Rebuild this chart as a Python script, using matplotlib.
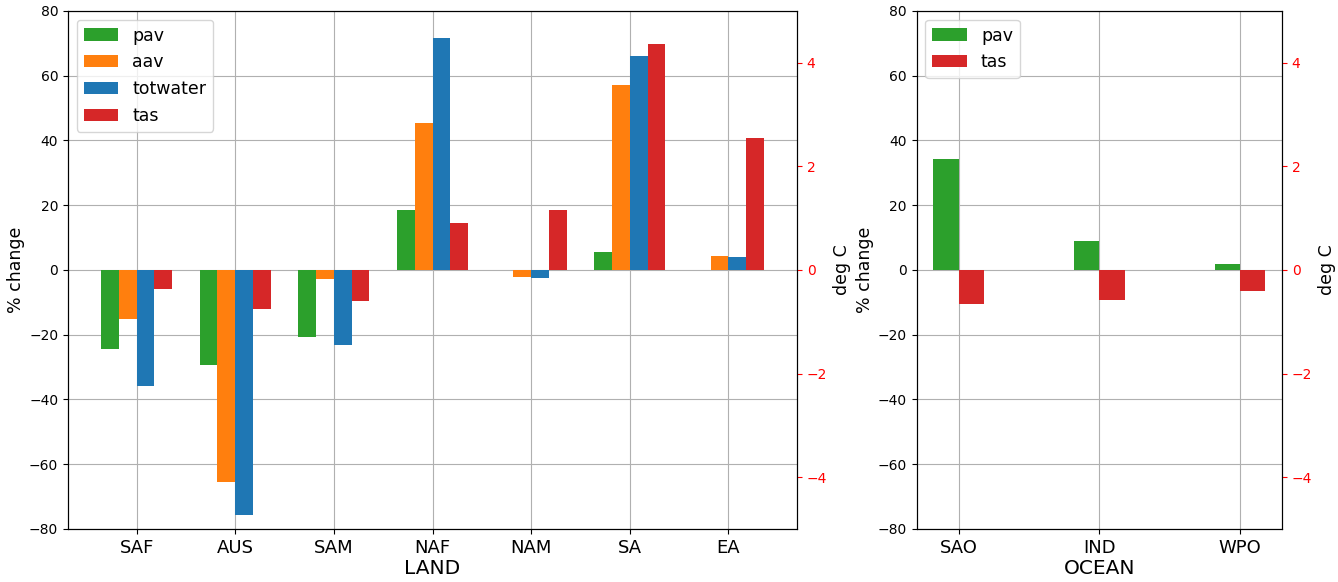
import numpy as np
import matplotlib.pyplot as plt

# land regions
land = ['SAF', 'AUS', 'SAM', 'NAF', 'NAM', 'SA', 'EA']
land_pav = [-24.3, -29.2, -20.8, 18.5, 0.1, 5.5, 0.1]
land_aav = [-15.1, -65.6, -2.9, 45.3, -2.1, 57.1, 4.3]
land_totwater = [-35.8, -75.7, -23.2, 71.8, -2.5, 66.0, 3.9]
land_tas = [-0.37, -0.75, -0.60, 0.90, 1.16, 4.37, 2.55]

# ocean regions
ocean = ['SAO', 'IND', 'WPO']
ocean_pav = [34.2, 9.0, 1.75]
ocean_tas = [-0.66, -0.585, -0.41]

w = 0.18

fig = plt.figure(figsize=(13.38, 5.82), dpi=100)
ax1 = fig.add_axes([0.0508, 0.0911, 0.5449, 0.8900])
ax2 = fig.add_axes([0.6851, 0.0911, 0.2731, 0.8900])

# -------------------------
# LAND
# -------------------------
x = np.arange(len(land))
b1 = ax1.bar(x - 1.5 * w, land_pav, w, color='tab:green', label='pav')
b2 = ax1.bar(x - 0.5 * w, land_aav, w, color='tab:orange', label='aav')
b3 = ax1.bar(x + 0.5 * w, land_totwater, w, color='tab:blue', label='totwater')
ax1.set_ylim(-80, 80)
ax1.set_xticks(x)
ax1.set_xticklabels(land, fontsize=13)
ax1.set_xlabel('LAND', fontsize=14.5, labelpad=2)
ax1.set_ylabel('% change', fontsize=12.5, labelpad=3)
ax1.grid(True)
ax1.set_axisbelow(True)

t1 = ax1.twinx()
b4 = t1.bar(x + 1.5 * w, land_tas, w, color='tab:red', label='tas')
t1.set_ylim(-5, 5)
t1.set_yticks([-4, -2, 0, 2, 4])
t1.tick_params(axis='y', colors='r')
t1.set_ylabel('deg C', fontsize=12.5)
t1.legend([b1, b2, b3, b4], ['pav', 'aav', 'totwater', 'tas'],
          loc='upper left', fontsize=12.5)

# -------------------------
# OCEAN
# -------------------------
xo = np.arange(len(ocean))
c1 = ax2.bar(xo - 0.5 * w, ocean_pav, w, color='tab:green', label='pav')
ax2.set_ylim(-80, 80)
ax2.set_xticks(xo)
ax2.set_xticklabels(ocean, fontsize=13)
ax2.set_xlabel('OCEAN', fontsize=14.5, labelpad=2)
ax2.set_ylabel('% change', fontsize=12.5, labelpad=3)
ax2.grid(True)
ax2.set_axisbelow(True)

t2 = ax2.twinx()
c2 = t2.bar(xo + 0.5 * w, ocean_tas, w, color='tab:red', label='tas')
t2.set_ylim(-5, 5)
t2.set_yticks([-4, -2, 0, 2, 4])
t2.tick_params(axis='y', colors='r')
t2.set_ylabel('deg C', fontsize=12.5)
t2.legend([c1, c2], ['pav', 'tas'], loc='upper left', fontsize=12.5)

fig.savefig('out.png', dpi=100)
